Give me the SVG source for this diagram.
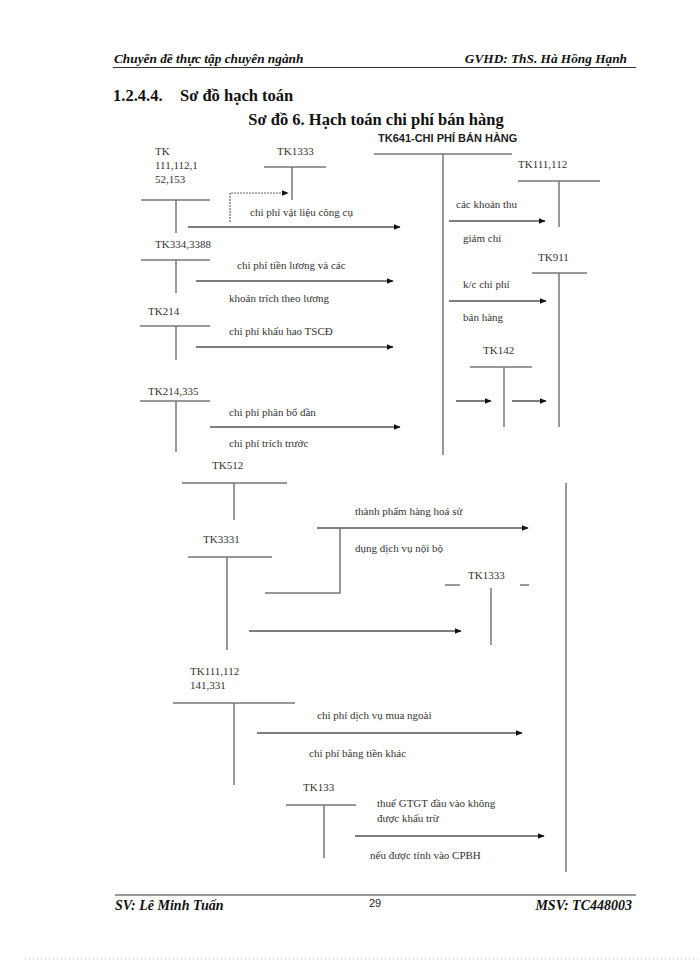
<svg xmlns="http://www.w3.org/2000/svg" width="700" height="960" viewBox="0 0 700 960">
<defs>
<marker id="ah" viewBox="0 0 10 10" refX="9" refY="5" markerWidth="7" markerHeight="7" markerUnits="userSpaceOnUse" orient="auto">
<path d="M0,1 L10,5 L0,9 Z" fill="#111"/>
</marker>
<style>
.hd{font-family:"Liberation Serif",serif;font-style:italic;font-weight:bold;font-size:13.3px;fill:#111}
.ft{font-family:"Liberation Serif",serif;font-style:italic;font-weight:bold;font-size:14px;fill:#111}
.h1{font-family:"Liberation Serif",serif;font-weight:bold;font-size:16.5px;fill:#111}
.tk{font-family:"Liberation Serif",serif;font-size:11px;fill:#333}
.lb{font-family:"Liberation Serif",serif;font-size:11px;fill:#333}
.ss{font-family:"Liberation Sans",sans-serif;font-weight:bold;font-size:11px;fill:#222}
.ln{stroke:#777;stroke-width:1.5;fill:none}
.ar{stroke:#555;stroke-width:1.3;fill:none;marker-end:url(#ah)}
.dt{stroke:#666;stroke-width:1.2;fill:none;stroke-dasharray:2 1}
</style>
</defs>
<rect width="700" height="960" fill="#fff"/>

<g id="header">
<text class="hd" x="114" y="63">Chuyên đề thực tập chuyên ngành</text>
<text class="hd" x="627" y="63" text-anchor="end">GVHD: ThS. Hà Hồng Hạnh</text>
<line x1="113" y1="67.5" x2="636" y2="67.5" stroke="#333" stroke-width="1"/>
<text class="h1" x="113" y="101">1.2.4.4.<tspan x="180">Sơ đồ hạch toán</tspan></text>
<text class="h1" x="376" y="125" text-anchor="middle">Sơ đồ 6. Hạch toán chi phí bán hàng</text>
</g>

<g id="tk641">
<text class="ss" x="378" y="142">TK641-CHI PHÍ BÁN HÀNG</text>
<line class="ln" x1="374" y1="154" x2="512" y2="154"/>
<line class="ln" x1="443" y1="154" x2="443" y2="455"/>
</g>

<g id="tk111_152">
<text class="tk" x="155" y="155">TK</text>
<text class="tk" x="155" y="169">111,112,1</text>
<text class="tk" x="155" y="183">52,153</text>
<line class="ln" x1="141" y1="200" x2="210" y2="200"/>
<line class="ln" x1="176" y1="200" x2="176" y2="233"/>
</g>

<g id="tk1333a">
<text class="tk" x="277" y="155">TK1333</text>
<line class="ln" x1="264" y1="167" x2="326" y2="167"/>
<line class="ln" x1="292" y1="167" x2="292" y2="200"/>
</g>

<g id="tk334">
<text class="tk" x="155" y="248">TK334,3388</text>
<line class="ln" x1="141" y1="260" x2="210" y2="260"/>
<line class="ln" x1="176" y1="260" x2="176" y2="293"/>
</g>

<g id="tk214">
<text class="tk" x="148" y="315">TK214</text>
<line class="ln" x1="140" y1="326" x2="210" y2="326"/>
<line class="ln" x1="176" y1="326" x2="176" y2="360"/>
</g>

<g id="tk214_335">
<text class="tk" x="148" y="395">TK214,335</text>
<line class="ln" x1="140" y1="401" x2="210" y2="401"/>
<line class="ln" x1="176" y1="401" x2="176" y2="452"/>
</g>

<g id="tk111_112">
<text class="tk" x="518" y="168">TK111,112</text>
<line class="ln" x1="518" y1="181" x2="600" y2="181"/>
<line class="ln" x1="559" y1="181" x2="559" y2="227"/>
</g>

<g id="tk911">
<text class="tk" x="538" y="261">TK911</text>
<line class="ln" x1="532" y1="273" x2="587" y2="273"/>
<line class="ln" x1="559" y1="273" x2="559" y2="427"/>
</g>

<g id="tk142">
<text class="tk" x="483" y="354">TK142</text>
<line class="ln" x1="470" y1="367" x2="532" y2="367"/>
<line class="ln" x1="504" y1="367" x2="504" y2="427"/>
</g>

<g id="tk512">
<text class="tk" x="212" y="469">TK512</text>
<line class="ln" x1="182" y1="483" x2="287" y2="483"/>
<line class="ln" x1="234" y1="483" x2="234" y2="520"/>
</g>

<g id="tk3331">
<text class="tk" x="203" y="543">TK3331</text>
<line class="ln" x1="188" y1="557" x2="272" y2="557"/>
<line class="ln" x1="227" y1="557" x2="227" y2="650"/>
</g>

<g id="tk1333b">
<text class="tk" x="468" y="579">TK1333</text>
<line class="ln" x1="445" y1="585" x2="460" y2="585"/>
<line class="ln" x1="520" y1="585" x2="529" y2="585"/>
<line class="ln" x1="491" y1="588" x2="491" y2="645"/>
</g>

<g id="tk641b">
<line class="ln" x1="566" y1="483" x2="566" y2="872"/>
</g>

<g id="tk111_141">
<text class="tk" x="190" y="675">TK111,112</text>
<text class="tk" x="190" y="689">141,331</text>
<line class="ln" x1="173" y1="703" x2="295" y2="703"/>
<line class="ln" x1="234" y1="703" x2="234" y2="785"/>
</g>

<g id="tk133">
<text class="tk" x="303" y="791">TK133</text>
<line class="ln" x1="286" y1="805" x2="356" y2="805"/>
<line class="ln" x1="324" y1="805" x2="324" y2="858"/>
</g>

<g id="connectors">
<polyline class="dt" points="230,222 230,193 288,193" marker-end="url(#ah)"/>
<line class="ar" x1="188" y1="227" x2="400" y2="227"/>
<line class="ar" x1="196" y1="281" x2="393" y2="281"/>
<line class="ar" x1="196" y1="347" x2="393" y2="347"/>
<line class="ar" x1="210" y1="427" x2="400" y2="427"/>
<line class="ar" x1="449" y1="221" x2="545" y2="221"/>
<line class="ar" x1="449" y1="301" x2="546" y2="301"/>
<line class="ar" x1="456" y1="401" x2="491" y2="401"/>
<line class="ar" x1="512" y1="401" x2="546" y2="401"/>
<line class="ar" x1="317" y1="528" x2="528" y2="528"/>
<polyline class="ln" points="265,593 340,593 340,528"/>
<line class="ar" x1="249" y1="631" x2="461" y2="631"/>
<line class="ar" x1="257" y1="733" x2="522" y2="733"/>
<line class="ar" x1="355" y1="836" x2="544" y2="836"/>
</g>

<g id="labels">
<text class="lb" x="250" y="216">chi phí vật liệu công cụ</text>
<text class="lb" x="237" y="269">chi phí tiền lương và các</text>
<text class="lb" x="229" y="302">khoản trích theo lương</text>
<text class="lb" x="229" y="335">chi phí khấu hao TSCĐ</text>
<text class="lb" x="229" y="416">chi phí phân bổ dần</text>
<text class="lb" x="229" y="447">chi phí trích trước</text>
<text class="lb" x="456" y="208">các khoản thu</text>
<text class="lb" x="463" y="242">giảm chi</text>
<text class="lb" x="463" y="288">k/c chi phí</text>
<text class="lb" x="463" y="321">bán hàng</text>
<text class="lb" x="355" y="515">thành phẩm hàng hoá sử</text>
<text class="lb" x="355" y="552">dụng dịch vụ nội bộ</text>
<text class="lb" x="317" y="719">chi phí dịch vụ mua ngoài</text>
<text class="lb" x="309" y="757">chi phí bằng tiền khác</text>
<text class="lb" x="377" y="807">thuế GTGT đầu vào không</text>
<text class="lb" x="377" y="822">được khấu trừ</text>
<text class="lb" x="370" y="859">nếu được tính vào CPBH</text>
</g>

<g id="footer">
<line x1="115" y1="895" x2="636" y2="895" stroke="#333" stroke-width="1"/>
<text class="ft" x="115" y="910">SV: Lê Minh Tuấn</text>
<text x="375" y="907" text-anchor="middle" font-family="Liberation Sans, sans-serif" font-size="11" fill="#222">29</text>
<text class="ft" x="632" y="910" text-anchor="end">MSV: TC448003</text>
<line x1="25" y1="959" x2="700" y2="959" stroke="#ccc" stroke-width="1" stroke-dasharray="1 3"/>
</g>
</svg>
